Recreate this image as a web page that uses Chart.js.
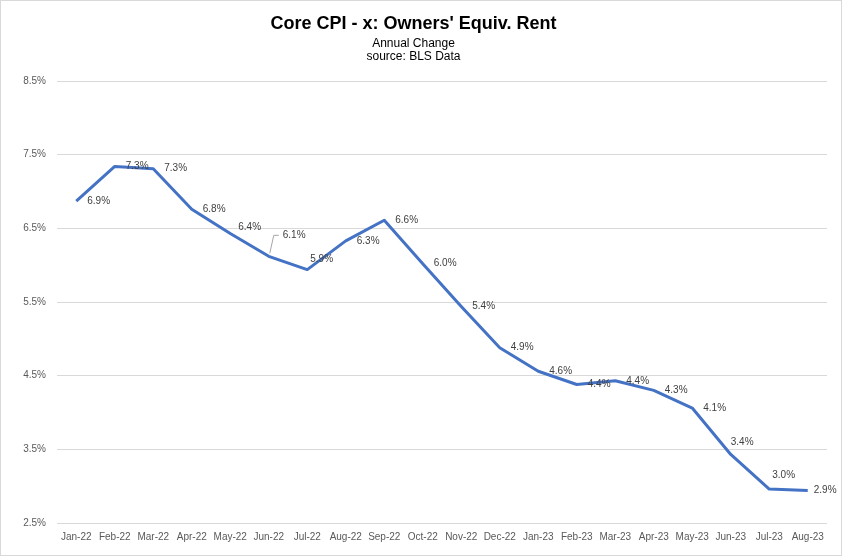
<!DOCTYPE html>
<html>
<head>
<meta charset="utf-8">
<script src="https://cdn.jsdelivr.net/npm/chart.js@4.4.1/dist/chart.umd.min.js"></script>
<style>
  html, body { margin: 0; padding: 0; background: #fff; }
  #wrap { width: 842px; height: 556px; }
</style>
</head>
<body>
<div id="wrap"><canvas id="cpi-chart" width="842" height="556"></canvas></div>
<script>
// categorias e valores (variação anual, %)
const months = ['Jan-22', 'Feb-22', 'Mar-22', 'Apr-22', 'May-22', 'Jun-22', 'Jul-22', 'Aug-22', 'Sep-22', 'Oct-22',
    'Nov-22', 'Dec-22', 'Jan-23', 'Feb-23', 'Mar-23', 'Apr-23', 'May-23', 'Jun-23', 'Jul-23', 'Aug-23'];
const oerValues = [6.87, 7.34, 7.31, 6.76, 6.43, 6.12, 5.94, 6.33, 6.61, 6.02,
    5.44, 4.88, 4.56, 4.38, 4.43, 4.30, 4.06, 3.43, 2.96, 2.94];
const yTicks = [2.5, 3.5, 4.5, 5.5, 6.5, 7.5, 8.5];

// deslocamentos dos rótulos que não ficam à direita do ponto
const labelNudge = {
    4: [8, -6],
    5: [14, -21],
    6: [3, -10],
    17: [0, -12],
    18: [3, -14],
    19: [6, 0]
};

const frame = {
    id: 'frame',
    beforeDraw(chart) {
        const c = chart.ctx;
        c.save();
        c.fillStyle = '#fff';
        c.fillRect(0, 0, chart.width, chart.height);
        c.strokeStyle = '#d9d9d9';
        c.lineWidth = 1;
        c.strokeRect(0.5, 0.5, chart.width - 1, chart.height - 1);
        c.restore();
    }
};

const valueLabels = {
    id: 'valueLabels',
    afterDatasetsDraw(chart) {
        const c = chart.ctx;
        const pts = chart.getDatasetMeta(0).data;
        c.save();
        c.font = '10px "Liberation Sans", Arial, sans-serif';
        c.fillStyle = '#404040';
        c.textAlign = 'left';
        c.textBaseline = 'middle';
        pts.forEach((p, i) => {
            const n = labelNudge[i] || [11, 0];
            c.fillText(oerValues[i].toFixed(1) + '%', p.x + n[0], p.y + n[1]);
        });
        // linha de chamada do Jun-22
        const p = pts[5];
        c.strokeStyle = '#a6a6a6';
        c.lineWidth = 1;
        c.beginPath();
        c.moveTo(p.x + 1, p.y - 3);
        c.lineTo(p.x + 5, p.y - 21);
        c.lineTo(p.x + 10, p.y - 21);
        c.stroke();
        c.restore();
    }
};

new Chart(document.getElementById('cpi-chart'), {
    type: 'line',
    data: {
        labels: months,
        datasets: [{
            data: oerValues,
            borderColor: '#4472C4',
            borderWidth: 3,
            borderJoinStyle: 'round',
            pointRadius: 0,
            tension: 0,
            fill: false
        }]
    },
    options: {
        responsive: false,
        animation: false,
        layout: { padding: { left: 0, right: 15, top: 0, bottom: 0 } },
        plugins: {
            legend: { display: false },
            tooltip: { enabled: false },
            title: {
                display: true,
                text: "Core CPI - x: Owners' Equiv. Rent",
                color: '#000',
                font: { family: '"Liberation Sans", Arial, sans-serif', size: 18, weight: 'bold', lineHeight: 1.2 },
                padding: { top: 13, bottom: 0 }
            },
            subtitle: {
                display: true,
                text: ['Annual Change', 'source: BLS Data'],
                color: '#000',
                font: { family: '"Liberation Sans", Arial, sans-serif', size: 12, lineHeight: '13px' },
                padding: { top: 3, bottom: 17.4 }
            }
        },
        scales: {
            x: {
                offset: true,
                grid: { display: false, drawTicks: false },
                border: { display: false },
                ticks: {
                    color: '#595959',
                    font: { family: '"Liberation Sans", Arial, sans-serif', size: 10 },
                    padding: 8,
                    maxRotation: 0,
                    autoSkip: false
                },
                afterFit(scale) { scale.height = 33; }
            },
            y: {
                min: 2.5,
                max: 8.5,
                afterBuildTicks(scale) { scale.ticks = yTicks.map(v => ({ value: v })); },
                grid: { color: '#d9d9d9', lineWidth: 1, drawTicks: false },
                border: { display: false },
                ticks: {
                    color: '#595959',
                    font: { family: '"Liberation Sans", Arial, sans-serif', size: 10 },
                    padding: 11,
                    callback: v => v.toFixed(1) + '%'
                },
                afterFit(scale) { scale.width = 57; }
            }
        }
    },
    plugins: [frame, valueLabels]
});
</script>
</body>
</html>
